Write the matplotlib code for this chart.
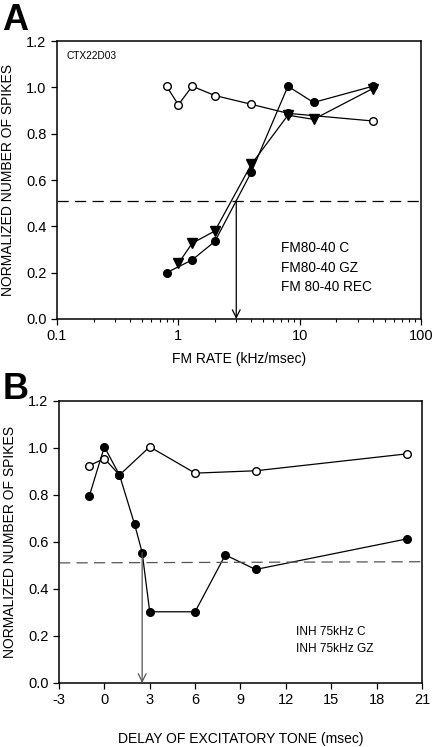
import matplotlib.pyplot as plt
from matplotlib.ticker import LogLocator, NullFormatter, FixedLocator

plt.rcParams['font.family'] = ['Liberation Sans', 'DejaVu Sans']
plt.rcParams['axes.unicode_minus'] = False

# panel A: FM rate
fm_c_x = [0.8, 1.3, 2.0, 4.0, 8.0, 13.0, 40.0]
fm_c_y = [0.20, 0.255, 0.335, 0.635, 1.005, 0.935, 1.005]
fm_gz_x = [1.0, 1.3, 2.0, 4.0, 8.0, 13.0, 40.0]
fm_gz_y = [0.24, 0.327, 0.38, 0.668, 0.88, 0.862, 0.995]
fm_rec_x = [0.8, 1.0, 1.3, 2.0, 4.0, 8.0, 40.0]
fm_rec_y = [1.005, 0.925, 1.005, 0.965, 0.927, 0.888, 0.855]
fm_half = 0.511
fm_cross = 3.0
fm_labels = ["FM80-40 C", "FM80-40 GZ", "FM 80-40 REC"]

# panel B: delay
inh_c_x = [-1, 0, 1, 2, 2.5, 3, 6, 8, 10, 20]
inh_c_y = [0.795, 1.005, 0.885, 0.675, 0.555, 0.303, 0.303, 0.545, 0.483, 0.613]
inh_gz_x = [-1, 0, 1, 3, 6, 10, 20]
inh_gz_y = [0.925, 0.955, 0.885, 1.005, 0.893, 0.903, 0.975]
inh_half_left = 0.511
inh_half_right = 0.516
inh_cross = 2.5
inh_labels = ["INH 75kHz C", "INH 75kHz GZ"]

fig = plt.figure(figsize=(4.32, 7.47), dpi=100)
ax_a = fig.add_axes([0.132, 0.573, 0.8426, 0.372])
ax_b = fig.add_axes([0.1366, 0.0857, 0.840, 0.3775])

mk = dict(markersize=5.5, markeredgecolor='black', linewidth=0.9, color='black')

# --- A ---
ax_a.plot(fm_rec_x, fm_rec_y, marker='o', markerfacecolor='white', **mk)
ax_a.plot(fm_c_x, fm_c_y, marker='o', markerfacecolor='black', **mk)
ax_a.plot(fm_gz_x, fm_gz_y, marker='v', markerfacecolor='black', markersize=6.5,
          markeredgecolor='black', linewidth=0.9, color='black')
ax_a.axhline(fm_half, color='black', linewidth=0.9, dashes=(9, 5))
ax_a.annotate('', xy=(fm_cross, 0), xytext=(fm_cross, fm_half),
              arrowprops=dict(arrowstyle='->', color='black', lw=0.9, mutation_scale=14,
                              shrinkA=0, shrinkB=0))
ax_a.set_xscale('log')
ax_a.set_xlim(0.1, 100)
ax_a.set_ylim(0, 1.2)
ax_a.xaxis.set_major_locator(FixedLocator([0.1, 1, 10, 100]))
ax_a.set_xticklabels(['0.1', '1', '10', '100'])
ax_a.xaxis.set_minor_locator(LogLocator(base=10, subs=range(2, 10)))
ax_a.xaxis.set_minor_formatter(NullFormatter())
ax_a.set_yticks([0, 0.2, 0.4, 0.6, 0.8, 1.0, 1.2])
ax_a.set_yticklabels(['0.0', '0.2', '0.4', '0.6', '0.8', '1.0', '1.2'])
ax_a.set_xlabel('FM RATE (kHz/msec)', fontsize=10, labelpad=6)
ax_a.set_ylabel('NORMALIZED NUMBER OF SPIKES', fontsize=10, labelpad=8)
ax_a.text(0.027, 0.946, 'CTX22D03', transform=ax_a.transAxes, fontsize=7.3, va='center')
for lbl, yy in zip(fm_labels, [0.255, 0.183, 0.115]):
    ax_a.text(0.615, yy, lbl, transform=ax_a.transAxes, fontsize=9.8, va='center')

# --- B ---
ax_b.plot(inh_gz_x, inh_gz_y, marker='o', markerfacecolor='white', **mk)
ax_b.plot(inh_c_x, inh_c_y, marker='o', markerfacecolor='black', **mk)
ax_b.plot([-3, 21], [inh_half_left, inh_half_right], color='#555555', linewidth=0.9, dashes=(9, 5))
ax_b.annotate('', xy=(inh_cross, 0), xytext=(inh_cross, inh_c_y[4]),
              arrowprops=dict(arrowstyle='->', color='#555555', lw=0.9, mutation_scale=14,
                              shrinkA=0, shrinkB=0))
ax_b.set_xlim(-3, 21)
ax_b.set_ylim(0, 1.2)
ax_b.set_xticks(range(-3, 22, 3))
ax_b.set_yticks([0, 0.2, 0.4, 0.6, 0.8, 1.0, 1.2])
ax_b.set_yticklabels(['0.0', '0.2', '0.4', '0.6', '0.8', '1.0', '1.2'])
ax_b.set_xlabel('DELAY OF EXCITATORY TONE (msec)', fontsize=10, labelpad=18)
ax_b.set_ylabel('NORMALIZED NUMBER OF SPIKES', fontsize=10, labelpad=8)
for lbl, yy in zip(inh_labels, [0.182, 0.12]):
    ax_b.text(0.652, yy, lbl, transform=ax_b.transAxes, fontsize=8.6, va='center')

for ax in (ax_a, ax_b):
    ax.tick_params(axis='both', which='major', labelsize=10.5, direction='out',
                   length=4, width=0.9, top=False, right=False)
    ax.tick_params(axis='x', which='minor', direction='out', length=2.5, width=0.8)
    for sp in ax.spines.values():
        sp.set_linewidth(1.1)

fig.text(0.005, 0.996, 'A', fontsize=26, fontweight='bold', va='top', ha='left')
fig.text(0.005, 0.502, 'B', fontsize=26, fontweight='bold', va='top', ha='left')

fig.savefig('out.png', dpi=100)
